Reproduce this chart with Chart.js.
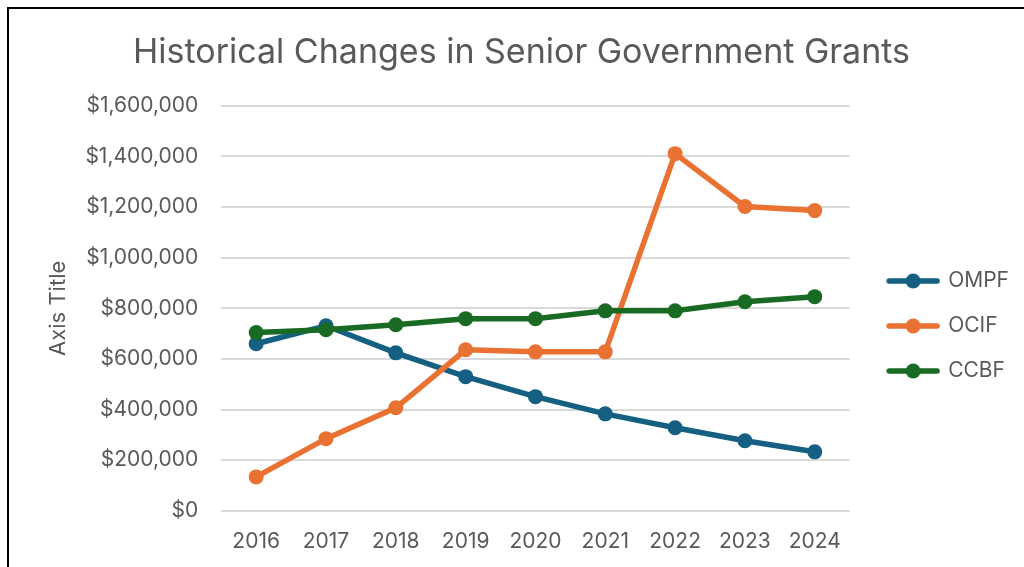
<!DOCTYPE html>
<html>
<head>
<meta charset="utf-8">
<script src="https://cdn.jsdelivr.net/npm/chart.js@4/dist/chart.umd.min.js"></script>
<style>
    html, body { margin: 0; padding: 0; background: #fff; }
    #wrap { position: relative; width: 1024px; height: 567px; overflow: hidden; }
    #frame { position: absolute; left: 7px; top: 7px; width: 1100px; height: 700px; border-left: 2px solid #000; border-top: 2px solid #000; pointer-events: none; }
    canvas { position: absolute; left: 0; top: 0; }
</style>
</head>
<body>
<div id="wrap">
    <canvas id="chart" width="1024" height="567"></canvas>
    <div id="frame"></div>
</div>
<script>
const years = ['2016', '2017', '2018', '2019', '2020', '2021', '2022', '2023', '2024'];
const ompf = [660000, 731000, 624000, 530000, 451000, 383000, 328000, 277000, 233000];
const ocif = [134000, 285000, 407000, 636000, 628000, 628000, 1411000, 1202000, 1186000];
const ccbf = [704000, 715000, 735000, 759000, 759000, 790000, 790000, 826000, 846000];

const textColor = '#595959';
const fontFamily = 'Inter, "Open Sans", sans-serif';

// legend marker: a short line with a dot in the middle (left margin keeps the gap to the plot)
function legendMarker(color) {
    const c = document.createElement('canvas');
    c.width = 69;
    c.height = 16;
    const g = c.getContext('2d');
    g.strokeStyle = color;
    g.lineWidth = 5.5;
    g.lineCap = 'round';
    g.beginPath();
    g.moveTo(18, 8);
    g.lineTo(66, 8);
    g.stroke();
    g.fillStyle = color;
    g.beginPath();
    g.arc(42, 8, 7.5, 0, Math.PI * 2);
    g.fill();
    return c;
}

function makeSet(label, data, color, order) {
    return {
        label: label,
        data: data,
        borderColor: color,
        backgroundColor: color,
        borderWidth: 5.5,
        pointRadius: 7.5,
        pointHoverRadius: 7.5,
        pointBorderWidth: 0,
        tension: 0,
        order: order,
        marker: legendMarker(color)
    };
}

new Chart(document.getElementById('chart'), {
    type: 'line',
    data: {
        labels: years,
        datasets: [
            makeSet('OMPF', ompf, '#156082', 3),
            makeSet('OCIF', ocif, '#E97132', 2),
            makeSet('CCBF', ccbf, '#196B24', 1)
        ]
    },
    options: {
        responsive: false,
        animation: false,
        layout: { padding: { left: 24, right: 5, top: 24, bottom: -5 } },
        plugins: {
            title: {
                display: true,
                text: 'Historical Changes in Senior Government Grants',
                color: textColor,
                font: { family: fontFamily, size: 34, weight: 'normal' },
                padding: { top: 8, bottom: 33 }
            },
            legend: {
                position: 'right',
                title: { display: true, text: ' ', padding: 22, font: { size: 10 } },
                labels: {
                    color: textColor,
                    font: { family: fontFamily, size: 21 },
                    usePointStyle: true,
                    pointStyleWidth: 64,
                    padding: 24,
                    generateLabels: chart => chart.data.datasets.map((ds, i) => ({
                        text: ds.label,
                        fontColor: textColor,
                        pointStyle: ds.marker,
                        datasetIndex: i,
                        lineWidth: 0,
                        hidden: false
                    }))
                }
            },
            tooltip: { enabled: false }
        },
        scales: {
            x: {
                offset: true,
                grid: { display: false, drawTicks: false },
                border: { display: false },
                ticks: { color: textColor, font: { family: fontFamily, size: 21 }, padding: 18 }
            },
            y: {
                min: 0,
                max: 1600000,
                ticks: {
                    stepSize: 200000,
                    color: textColor,
                    font: { family: fontFamily, size: 21 },
                    padding: 23,
                    callback: v => '$' + v.toLocaleString('en-US')
                },
                grid: { color: '#d9d9d9', lineWidth: 2, drawTicks: false },
                border: { display: false },
                title: {
                    display: true,
                    text: 'Axis Title',
                    color: textColor,
                    font: { family: fontFamily, size: 22 },
                    padding: { top: 21, bottom: -9 }
                }
            }
        }
    }
});
</script>
</body>
</html>
